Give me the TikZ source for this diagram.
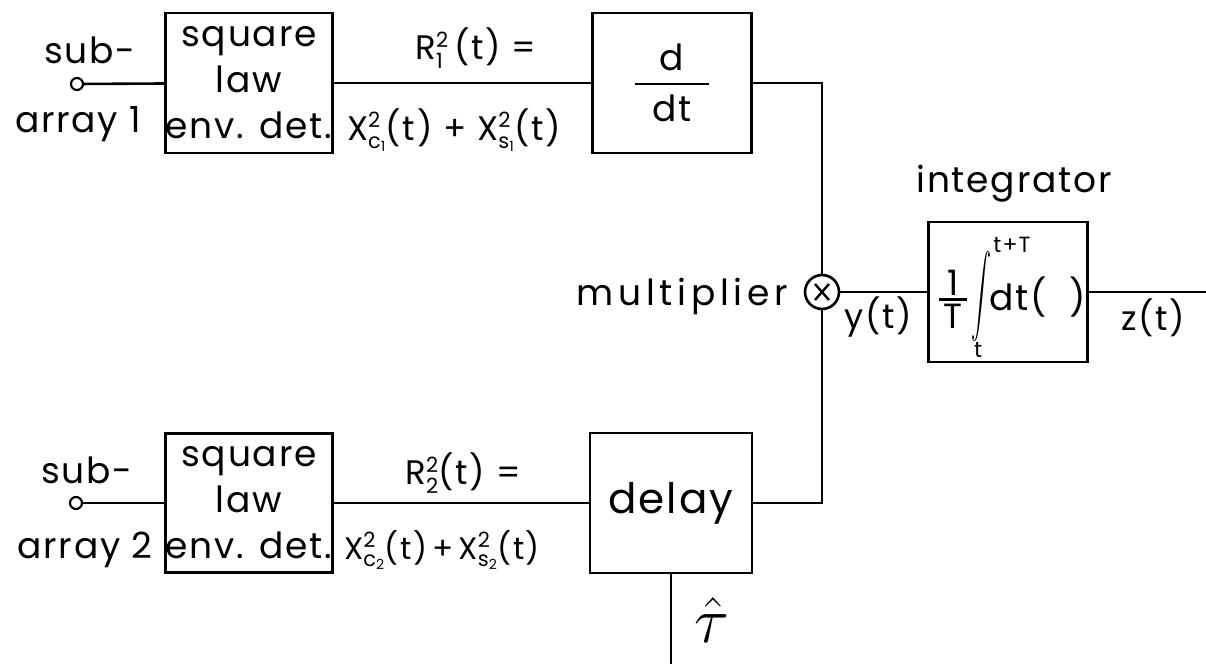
\RequirePackage{fix-cm}
\documentclass[tikz,border=0pt]{standalone}
\usepackage{fontspec}
\setmainfont{Poppins}[LetterSpace=5]
\newcommand\supsub[2]{$^{\mbox{\fontsize{21}{21}\selectfont #1}}_{\mbox{\fontsize{21}{21}\selectfont #2}}$}
\newcommand\tinysub[1]{\raisebox{-3pt}{\fontsize{14}{14}\selectfont #1}}
\begin{document}
\begin{tikzpicture}[x=1pt,y=-1pt,
  blk/.style={draw, line width=2.6pt, inner sep=0pt, align=center,
    font=\fontsize{36}{46}\selectfont},
  wire/.style={line width=2.6pt},
  term/.style={circle, draw, line width=2.2pt, minimum size=12pt, inner sep=0pt},
  lbl/.style={inner sep=0pt, font=\fontsize{36}{40}\selectfont, align=center},
  sml/.style={inner sep=0pt, font=\fontsize{34}{36}\selectfont, align=center},
  part/.style={inner sep=0pt, font=\fontsize{#1}{#1}\selectfont}]
\useasboundingbox (0,0) rectangle (1206,664);

% top row
\node[term] (t1) at (77,84) {};
\node[lbl] (sub1) at (90,50) {sub-};
\node[lbl] (arr1) at (78,124) {array 1};
\node[blk, minimum width=158pt, minimum height=140pt] (sq1) at (249,83) {square\\law\\env. det.};
\node[blk, minimum width=159pt, minimum height=140pt] (dd) at (672,83)
  {\vbox{\hbox to 74pt{\hfil d\hfil}\kern12pt\hrule height 2.4pt\kern10pt\hbox to 74pt{\hfil dt\hfil}}};
\node[sml] (r1) at (476,48) {R\supsub{2}{1}\,(t) =};
\node[sml] (x1) at (454,130) {X\supsub{2}{c\tinysub{1}}(t) + X\supsub{2}{s\tinysub{1}}(t)};

% bottom row
\node[term] (t2) at (76,503) {};
\node[lbl] (sub2) at (87,470) {sub-};
\node[lbl] (arr2) at (85,550) {array 2};
\node[blk, minimum width=158pt, minimum height=139pt] (sq2) at (249,503) {square\\law\\env. det.};
\node[blk, minimum width=162pt, minimum height=140pt, font=\fontsize{42}{46}\selectfont] (dl) at (671,503) {delay};
\node[sml] (r2) at (463,473) {R\supsub{2}{2}(t) =};
\node[sml, font=\fontsize{31}{34}\selectfont] (x2) at (442,550) {X\supsub{2}{c\tinysub{2}}(t)\,+\,X\supsub{2}{s\tinysub{2}}(t)};
\node[lbl] (tau) at (712,620) {\scalebox{1.8}{$\hat{\tau}$}};

% multiplier and integrator
\node[circle, draw, line width=2.6pt, minimum size=34pt, inner sep=0pt,
  path picture={\draw[line width=2.4pt, shift={(path picture bounding box.center)}]
    (-7,-8) -- (7,8) (-7,8) -- (7,-8);}] (mul) at (822,292) {};
\node[lbl, anchor=base east, font=\fontsize{36}{40}\selectfont\addfontfeatures{LetterSpace=13}] (mtxt) at (788,305) {multiplier};
\node[blk, minimum width=159pt, minimum height=140pt] (int) at (1008,292) {};
\node[part=35] (ifrac) at (953,299)
  {\vbox{\hbox to 28pt{\hfil 1\hfil}\kern3pt\hrule height 2.4pt\kern3pt\hbox to 28pt{\hfil T\hfil}}};
\node[part=10] (isign) at (981,297) {\resizebox*{20pt}{90pt}{$\displaystyle\int$}};
\node[part=22] (iup) at (1012,245) {t+T};
\node[part=22] (ilo) at (978,350) {t};
\node[part=36] (idt) at (1038,297) {dt(\ \ )};
\node[lbl] (itxt) at (1014,184) {integrator};
\node[sml] (yt) at (878,317) {y(t)};
\node[sml] (zt) at (1153,318) {z(t)};
\coordinate (out) at (1206,292);
\coordinate (tauend) at (671,664);

% wires
\draw[wire] (t1) -- (sq1);
\draw[wire] (sq1) -- (dd);
\draw[wire] (dd.east) -| (mul.north);
\draw[wire] (t2) -- (sq2);
\draw[wire] (sq2) -- (dl);
\draw[wire] (dl.east) -| (mul.south);
\draw[wire] (mul) -- (int);
\draw[wire] (int) -- (out);
\draw[wire] (dl) -- (tauend);
\end{tikzpicture}
\end{document}
